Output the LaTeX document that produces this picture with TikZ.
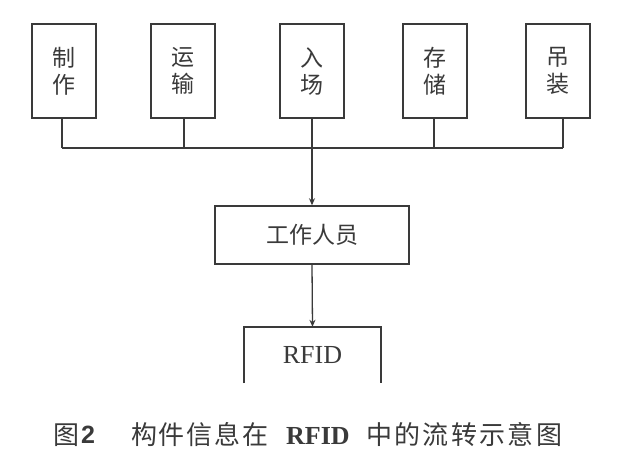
\documentclass[tikz,border=0pt]{standalone}
\usepackage{fontspec}
\setmainfont{Liberation Serif}
\newfontfamily\cjk{Noto Sans CJK SC}
\newfontfamily\capsans{Liberation Sans}
\usetikzlibrary{arrows.meta}
\definecolor{ink}{HTML}{3A3A3A}
\tikzset{
  stagebox/.style={draw=ink, line width=1.5pt, minimum width=64pt, minimum height=94pt,
    inner sep=0pt, align=center, text=ink, font=\cjk\fontsize{23}{27}\selectfont},
  wide/.style={draw=ink, line width=1.5pt, minimum width=194pt, minimum height=58pt,
    inner sep=0pt, text=ink, font=\cjk\fontsize{23}{27}\selectfont},
  wire/.style={draw=ink, line width=1.3pt},
  arr/.style={wire, -{Stealth[length=7pt,width=6pt]}},
  captext/.style={text=ink, inner sep=0pt, anchor=west, font=\cjk\fontsize{26}{30}\selectfont}
}
\begin{document}
\begin{tikzpicture}[x=1pt,y=-1pt]
\useasboundingbox[fill=white] (0,0) rectangle (640,459);
\node[stagebox] (b1) at (64,71) {制\\作};
\node[stagebox] (b2) at (183,71) {运\\输};
\node[stagebox] (b3) at (312,71) {入\\场};
\node[stagebox] (b4) at (435,71) {存\\储};
\node[stagebox] (b5) at (558,71) {吊\\装};
\coordinate (bus) at (312,148);
\foreach \b/\dx in {b1/-2,b2/1,b3/0,b4/-1,b5/5}{
  \draw[wire] ([xshift=\dx pt]\b.south) -- ([xshift=\dx pt]\b.south |- bus);
}
\draw[wire] ([xshift=-2pt]b1.south |- bus) -- ([xshift=5pt]b5.south |- bus);
\node[wide] (staff) at (312,235) {工作人员};
\draw[arr] (b3.south |- bus) -- (staff.north);
\node[minimum width=137pt, minimum height=56pt, inner sep=0pt, text=ink,
  font=\fontsize{26}{29}\selectfont] (rfid) at (312.5,355) {RFID};
\draw[wire, line width=1.5pt] (rfid.south west) -- (rfid.north west) -- (rfid.north east) -- (rfid.south east);
\draw[arr] (staff.south) -- (rfid.north);
% caption
\node[captext] (cap1) at (53,435) {图};
\node[captext, font=\capsans\bfseries\fontsize{25}{30}\selectfont] (cap2) at (81,435) {2};
\node[captext] (cap3) at (131,435) {\addfontfeature{LetterSpace=7}构件信息在};
\node[captext, font=\rmfamily\bfseries\fontsize{26}{30}\selectfont] (cap4) at (286,436) {RFID};
\node[captext] (cap5) at (366,435) {\addfontfeature{LetterSpace=9}中的流转示意图};
\end{tikzpicture}
\end{document}
